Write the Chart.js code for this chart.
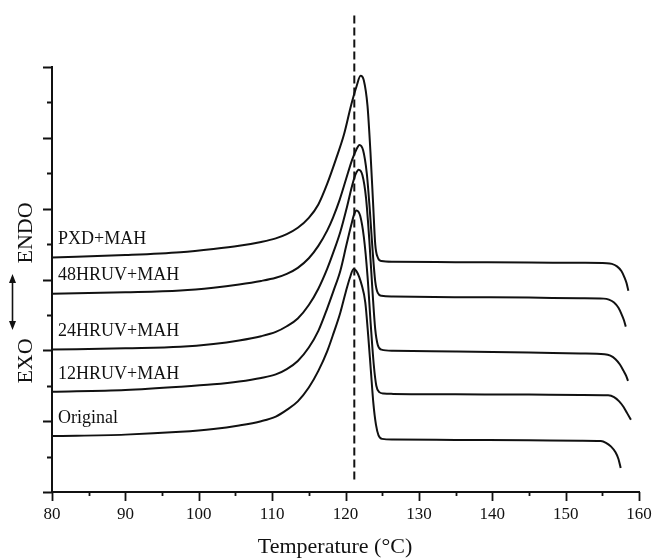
<!DOCTYPE html>
<html>
<head>
<meta charset="utf-8">
<script src="https://cdn.jsdelivr.net/npm/chart.js@4/dist/chart.umd.min.js"></script>
<style>
html,body{margin:0;padding:0;background:#fff;}
#wrap{width:652px;height:559px;}
</style>
</head>
<body>
<div id="wrap"><canvas id="c" width="652" height="559"></canvas></div>
<script>
// ---- data ----
const seriesNames = ["PXD+MAH", "48HRUV+MAH", "24HRUV+MAH", "12HRUV+MAH", "Original"];

const tempPXD = [80, 90, 97.5, 102, 105.5, 108.5, 110.5, 112, 113.5, 115, 116.3, 117.5, 118.7, 119.8, 120.8, 121.5, 122.05, 122.5, 123.0, 123.4, 123.75, 124.05, 124.4, 124.9, 126.5, 135, 145, 152, 155.6, 156.3, 157.0, 157.6, 158.0, 158.3, 158.55];
const valPXD  = [6.62, 6.69, 6.77, 6.86, 6.95, 7.06, 7.16, 7.28, 7.46, 7.74, 8.12, 8.7, 9.4, 10.1, 10.95, 11.45, 11.75, 11.62, 10.9, 9.6, 8.2, 7.0, 6.62, 6.52, 6.5, 6.49, 6.48, 6.47, 6.46, 6.44, 6.37, 6.24, 6.07, 5.9, 5.68];

const temp48 = [80, 90, 97.5, 102, 105.5, 108.5, 110.5, 112, 113.5, 115, 116.3, 117.5, 118.3, 119.2, 120.1, 120.9, 121.5, 121.9, 122.4, 122.9, 123.3, 123.7, 124.05, 124.4, 124.9, 126.5, 135, 145, 152, 155.2, 155.9, 156.6, 157.2, 157.6, 157.95, 158.2];
const val48  = [5.60, 5.64, 5.69, 5.77, 5.86, 5.96, 6.05, 6.16, 6.33, 6.60, 6.95, 7.38, 7.75, 8.25, 8.85, 9.38, 9.68, 9.8, 9.65, 9.0, 8.0, 6.8, 5.95, 5.62, 5.54, 5.52, 5.5, 5.49, 5.47, 5.46, 5.43, 5.35, 5.2, 5.03, 4.85, 4.67];

const temp24 = [80, 90, 97.5, 102, 105.5, 108.5, 110.5, 112, 113.5, 115, 116.3, 117.5, 118.4, 119.3, 120.2, 120.9, 121.4, 121.8, 122.3, 122.8, 123.25, 123.7, 124.05, 124.4, 124.9, 126.5, 135, 145, 152, 155.3, 156.1, 156.8, 157.4, 157.9, 158.25, 158.5];
const val24  = [4.02, 4.06, 4.10, 4.18, 4.28, 4.40, 4.52, 4.68, 4.9, 5.28, 5.74, 6.3, 6.8, 7.35, 8.05, 8.65, 8.98, 9.1, 8.95, 8.3, 7.1, 5.6, 4.6, 4.15, 4.02, 3.99, 3.97, 3.94, 3.91, 3.89, 3.85, 3.75, 3.6, 3.42, 3.28, 3.14];

const temp12 = [80, 90, 97.5, 102, 105.5, 108.5, 110.5, 112, 113.5, 115, 116.3, 117.5, 118.4, 119.3, 120.1, 120.8, 121.2, 121.5, 122.0, 122.5, 123.0, 123.45, 123.85, 124.2, 124.6, 125.2, 126.5, 135, 145, 152, 155.8, 156.6, 157.3, 157.9, 158.4, 158.9];
const val12  = [2.83, 2.88, 2.97, 3.04, 3.12, 3.22, 3.32, 3.47, 3.7, 4.08, 4.55, 5.18, 5.7, 6.25, 6.95, 7.55, 7.85, 7.95, 7.8, 7.2, 6.1, 4.7, 3.6, 3.0, 2.82, 2.78, 2.77, 2.76, 2.75, 2.74, 2.73, 2.68, 2.56, 2.4, 2.22, 2.04];

const tempOrig = [80, 90, 97.5, 102, 105.5, 108.5, 110.5, 112, 113.5, 115, 116.3, 117.5, 118.4, 119.3, 120.0, 120.6, 121.1, 121.6, 122.2, 122.7, 123.1, 123.45, 123.8, 124.15, 124.5, 125.0, 126.5, 135, 145, 152, 154.8, 155.5, 156.2, 156.8, 157.2, 157.5];
const valOrig  = [1.58, 1.62, 1.70, 1.78, 1.88, 2.0, 2.13, 2.32, 2.56, 2.95, 3.42, 3.97, 4.5, 5.07, 5.62, 6.05, 6.3, 6.2, 5.85, 5.35, 4.4, 3.45, 2.5, 1.9, 1.6, 1.5, 1.48, 1.47, 1.46, 1.45, 1.44, 1.39, 1.28, 1.12, 0.93, 0.68];

// vertical dashed reference line (peak temperature)
const refTemp = 121.2;
const refSpan = [0.35, 13.56];

const xTickValues = [80, 90, 100, 110, 120, 130, 140, 150, 160];
const xTitle = "Temperature (\u00B0C)";
const yLabelTop = "ENDO";
const yLabelBottom = "EXO";

// ---- build ----
const temps = [tempPXD, temp48, temp24, temp12, tempOrig];
const vals = [valPXD, val48, val24, val12, valOrig];

const datasets = seriesNames.map((name, i) => ({
  label: name,
  data: temps[i].map((t, k) => ({x: t, y: vals[i][k]})),
  borderColor: '#111',
  borderWidth: 2,
  pointRadius: 0,
  fill: false,
  cubicInterpolationMode: 'monotone'
}));
datasets.push({
  label: 'ref',
  data: refSpan.map(v => ({x: refTemp, y: v})),
  borderColor: '#111',
  borderWidth: 2,
  borderDash: [8, 4],
  pointRadius: 0,
  clip: false
});

const SERIF = '"Liberation Serif", "Times New Roman", serif';

const decor = {
  id: 'decor',
  afterDraw(chart) {
    const {ctx, chartArea: a, scales: {x, y}} = chart;
    ctx.save();
    ctx.strokeStyle = '#111';
    ctx.lineWidth = 1.8;
    ctx.beginPath();
    y.ticks.forEach(t => {
      const py = Math.round(y.getPixelForValue(t.value)) + 0.5;
      const len = (t.value % 2 === 0) ? 9 : 5;
      ctx.moveTo(a.left - len, py); ctx.lineTo(a.left, py);
    });
    x.ticks.forEach(t => {
      const px = Math.round(x.getPixelForValue(t.value)) + 0.5;
      const len = (t.value % 10 === 0) ? 9 : 4;
      ctx.moveTo(px, a.bottom); ctx.lineTo(px, a.bottom + len);
    });
    ctx.stroke();

    // y-axis label: EXO <-> ENDO
    ctx.fillStyle = '#111';
    ctx.font = '22px ' + SERIF;
    ctx.textAlign = 'center';
    ctx.textBaseline = 'middle';
    const drawRot = (txt, cx, cy) => {
      ctx.save(); ctx.translate(cx, cy); ctx.rotate(-Math.PI / 2); ctx.fillText(txt, 0, 0); ctx.restore();
    };
    drawRot(yLabelTop, 26, 233);
    drawRot(yLabelBottom, 26, 361);
    const ax = 12.5, ay1 = 274, ay2 = 330;
    ctx.lineWidth = 1.6;
    ctx.beginPath(); ctx.moveTo(ax, ay1 + 4); ctx.lineTo(ax, ay2 - 4); ctx.stroke();
    ctx.beginPath();
    ctx.moveTo(ax, ay1); ctx.lineTo(ax - 3.5, ay1 + 9); ctx.lineTo(ax + 3.5, ay1 + 9); ctx.closePath();
    ctx.moveTo(ax, ay2); ctx.lineTo(ax - 3.5, ay2 - 9); ctx.lineTo(ax + 3.5, ay2 - 9); ctx.closePath();
    ctx.fill();

    // x-axis title
    ctx.font = '22px ' + SERIF;
    ctx.textAlign = 'center';
    ctx.textBaseline = 'middle';
    ctx.fillText(xTitle, 335, 547);

    // series labels above each curve's start
    ctx.font = '18px ' + SERIF;
    ctx.textAlign = 'left';
    seriesNames.forEach((name, i) => {
      const py = y.getPixelForValue(vals[i][0]) - 18;
      ctx.fillText(name, a.left + 6, py);
    });
    ctx.restore();
  }
};

new Chart(document.getElementById('c'), {
  type: 'line',
  data: {datasets},
  options: {
    responsive: false,
    devicePixelRatio: 1,
    animation: false,
    events: [],
    layout: {padding: {left: 52, right: 13, top: 67, bottom: 0}},
    plugins: {legend: {display: false}, tooltip: {enabled: false}},
    scales: {
      x: {
        type: 'linear',
        min: 80, max: 160,
        grid: {display: false, drawTicks: true, tickLength: 9},
        border: {display: true, color: '#111', width: 2},
        ticks: {
          stepSize: 5,
          autoSkip: false,
          maxRotation: 0,
          padding: 3,
          color: '#111',
          font: {family: SERIF, size: 17},
          callback: v => xTickValues.includes(v) ? String(v) : ''
        },
        title: {display: false},
        afterFit(s) { s.height = 67; s.paddingLeft = 0; s.paddingRight = 0; }
      },
      y: {
        type: 'linear',
        min: 0, max: 12,
        grid: {display: false, drawTicks: false},
        border: {display: true, color: '#111', width: 2},
        ticks: {display: false, stepSize: 1},
        afterFit(s) { s.width = 0; }
      }
    }
  },
  plugins: [decor]
});
</script>
</body>
</html>
